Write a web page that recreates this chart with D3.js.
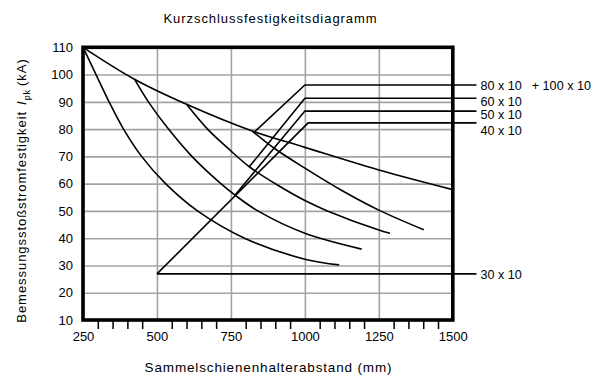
<!DOCTYPE html>
<html>
<head>
<meta charset="utf-8">
<script src="https://cdn.jsdelivr.net/npm/d3@7"></script>
<style>
  body { margin: 0; background: #fff; }
  svg { display: block; font-family: "Liberation Sans", Arial, Helvetica, sans-serif; }
</style>
</head>
<body>
<svg id="chart" width="609" height="376"></svg>
<script>
// Support spacing (mm) on x, rated peak withstand current (kA) on y
const xTicks = [250, 500, 750, 1000, 1250, 1500];
const xMinorTicks = [300, 350, 400, 450, 550, 600, 650, 700, 800, 850, 900, 950,
                     1050, 1100, 1150, 1200, 1300, 1350, 1400, 1450];
const yTicks = [10, 20, 30, 40, 50, 60, 70, 80, 90, 100, 110];

// Upper limit curve
const envelope = [[250, 110], [424, 98.3], [600, 89.1], [822, 79.3], [1000, 73.3], [1250, 65], [1500, 57.8]];

// Limit curves per busbar cross-section
const curve30 = [[250, 110], [294, 100], [338, 90], [387, 80], [448, 70], [529, 60], [637, 50], [796, 40], [1000, 32.3], [1116, 30.2]];
const curve40 = [[424, 98.3], [471, 90], [539, 80], [618, 70], [716, 60], [764, 55.8], [841, 50], [1000, 41.8], [1192, 36]];
const curve50 = [[600, 89.1], [671, 80], [747, 72.3], [812, 66.2], [910, 59.3], [1000, 53.8], [1074, 50.1], [1250, 43], [1288, 41.8]];
const curve60 = [[822, 79.3], [900, 72.7], [1000, 65.7], [1125, 57.5], [1250, 50.3], [1402, 43.1]];

// Leader lines from each curve out to its cross-section label
const sizeNames = ["80 x 10", "60 x 10", "50 x 10", "40 x 10", "30 x 10"];
const sizeLeaders = [
  [[828, 78.8], [1000, 96.2], [1580, 96.2]],
  [[812, 66.2], [1000, 91.3], [1580, 91.3]],
  [[764, 55.8], [1000, 86.6], [1580, 86.6]],
  [[500, 26.9], [1011, 82.3], [1580, 82.3]],
  [[500, 26.9], [1580, 26.9]]
];
const extraName = "+ 100 x 10";

const svg = d3.select("#chart");
const plot = { left: 83, right: 452.8, top: 47.3, bottom: 320 };

const x = d3.scaleLinear().domain([250, 1500]).range([plot.left, plot.right]);
const y = d3.scaleLinear().domain([10, 110]).range([plot.bottom, plot.top]);

// grid
svg.append("g")
  .attr("transform", `translate(0,${plot.bottom})`)
  .call(d3.axisBottom(x).tickValues(xTicks).tickSize(-(plot.bottom - plot.top)).tickFormat(""))
  .call(g => g.select(".domain").remove())
  .call(g => g.selectAll("line").attr("stroke", "#a3a3a3").attr("stroke-width", 1.6));
svg.append("g")
  .attr("transform", `translate(${plot.left},0)`)
  .call(d3.axisLeft(y).tickValues(yTicks).tickSize(-(plot.right - plot.left)).tickFormat(""))
  .call(g => g.select(".domain").remove())
  .call(g => g.selectAll("line").attr("stroke", "#a3a3a3").attr("stroke-width", 1.6));

// minor tick marks under the axis
svg.append("g")
  .attr("transform", `translate(0,${plot.bottom})`)
  .call(d3.axisBottom(x).tickValues(xMinorTicks).tickSize(9).tickSizeOuter(0).tickFormat(""))
  .call(g => g.select(".domain").remove())
  .call(g => g.selectAll("line").attr("stroke", "#000").attr("stroke-width", 1.5));

// tick labels
svg.append("g")
  .attr("transform", `translate(0,${plot.bottom})`)
  .call(d3.axisBottom(x).tickValues(xTicks).tickSize(0).tickPadding(12).tickFormat(d3.format("d")))
  .call(g => g.select(".domain").remove())
  .call(g => g.selectAll("text").attr("font-size", 13).attr("fill", "#000"))
  .attr("font-family", null);
svg.append("g")
  .attr("transform", `translate(${plot.left},0)`)
  .call(d3.axisLeft(y).tickValues(yTicks).tickSize(0).tickPadding(10).tickFormat(d3.format("d")))
  .call(g => g.select(".domain").remove())
  .call(g => g.selectAll("text").attr("font-size", 13).attr("fill", "#000"))
  .attr("font-family", null);

const line = d3.line().x(d => x(d[0])).y(d => y(d[1]));
const smooth = d3.line().x(d => x(d[0])).y(d => y(d[1])).curve(d3.curveCatmullRom.alpha(0.5));

const curves = svg.append("g").attr("fill", "none").attr("stroke", "#000").attr("stroke-width", 1.6);
[envelope, curve30, curve40, curve50, curve60].forEach(c => curves.append("path").attr("d", smooth(c)));
sizeLeaders.forEach(c => curves.append("path").attr("d", line(c)).attr("stroke-linejoin", "miter"));

// frame
svg.append("rect")
  .attr("x", plot.left).attr("y", plot.top)
  .attr("width", plot.right - plot.left).attr("height", plot.bottom - plot.top)
  .attr("fill", "none").attr("stroke", "#000").attr("stroke-width", 3.6);

// cross-section labels
const labelShift = [5, 7.7, 7.7, 11.8, 5.3];
const labels = svg.append("g").attr("font-size", 12.6).attr("fill", "#000");
sizeNames.forEach((name, i) => {
  const pts = sizeLeaders[i];
  const end = pts[pts.length - 1];
  const t = labels.append("text")
    .attr("x", x(end[0]) + 4)
    .attr("y", y(end[1]) + labelShift[i])
    .text(name);
  if (i === 0) t.append("tspan").attr("dx", 10).text(extraName);
});

// titles
svg.append("text")
  .attr("x", 270.5).attr("y", 22.7)
  .attr("text-anchor", "middle")
  .attr("font-size", 13).attr("letter-spacing", 0.95)
  .text("Kurzschlussfestigkeitsdiagramm");

svg.append("text")
  .attr("x", 268.5).attr("y", 371.7)
  .attr("text-anchor", "middle")
  .attr("font-size", 13.5).attr("letter-spacing", 0.85)
  .text("Sammelschienenhalterabstand (mm)");

const yt = svg.append("text")
  .attr("transform", "translate(26,190.5) rotate(-90)")
  .attr("text-anchor", "middle")
  .attr("font-size", 13).attr("letter-spacing", 0.95);
yt.append("tspan").text("Bemessungsstoßstromfestigkeit");
yt.append("tspan").attr("dx", 6).attr("font-style", "italic").text("I");
yt.append("tspan").attr("dy", 3.5).attr("font-size", 9).text("pk");
yt.append("tspan").attr("dy", -3.5).attr("dx", 3).text("(kA)");
</script>
</body>
</html>
